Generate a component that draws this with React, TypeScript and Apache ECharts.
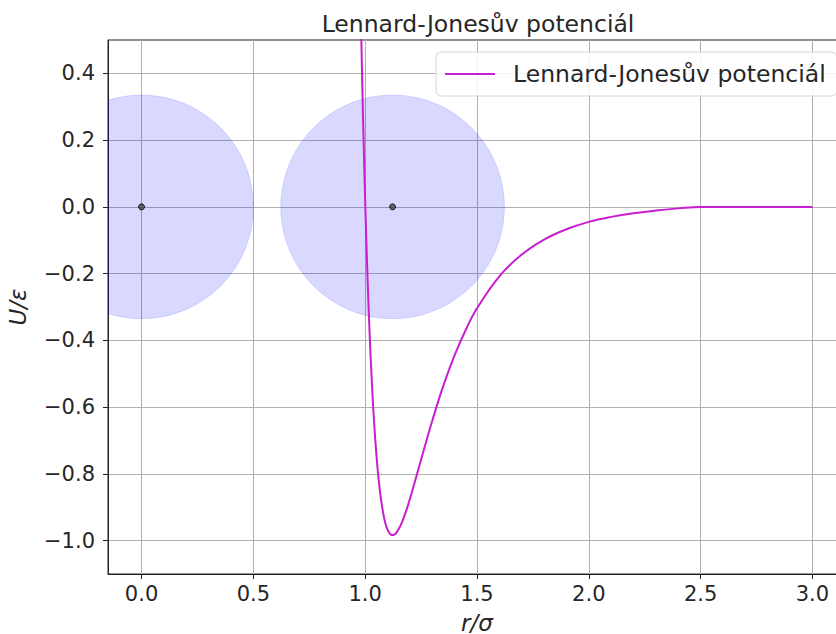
import React, { useEffect, useRef } from "react";
import * as echarts from "echarts";

// Sampled r/σ positions and reduced potential U/ε (truncated & shifted at r = 2.5σ)
const rValues = [
  0.96, 0.97, 0.975, 0.98, 0.985, 0.99, 1.0, 1.01, 1.02, 1.03, 1.04, 1.05, 1.06, 1.07,
  1.08, 1.09, 1.1, 1.11, 1.12, 1.13, 1.14, 1.16, 1.18, 1.2, 1.22, 1.25, 1.3, 1.35,
  1.4, 1.45, 1.5, 1.6, 1.7, 1.8, 1.9, 2.0, 2.1, 2.2, 2.3, 2.4, 2.5, 3.0,
];
const uValues = [
  1.434, 0.979, 0.78, 0.598, 0.432, 0.28, 0.016, -0.202, -0.382, -0.528, -0.647, -0.741,
  -0.816, -0.873, -0.916, -0.947, -0.967, -0.979, -0.9835, -0.982, -0.976, -0.952,
  -0.917, -0.875, -0.829, -0.757, -0.641, -0.535, -0.444, -0.368, -0.304, -0.208,
  -0.143, -0.098, -0.067, -0.045, -0.03, -0.019, -0.011, -0.0045, 0, 0,
];

// Two particles: centres (r/σ, U/ε) and their radius in σ units
const particleCenters = [
  [0, 0],
  [1.1225, 0],
];
const particleRadius = 0.5;

const xTicks = [0, 0.5, 1.0, 1.5, 2.0, 2.5, 3.0];
const yTicks = [-1.0, -0.8, -0.6, -0.4, -0.2, 0, 0.2, 0.4];

const seriesName = "Lennard-Jonesův potenciál";

const FONT = "DejaVu Sans";
const TEXT = "#262626";
const fmt = (v: number) => v.toFixed(1).replace("-", "\u2212");

export default function App() {
  const ref = useRef<HTMLDivElement>(null);

  useEffect(() => {
    if (!ref.current) return;
    const chart = echarts.init(ref.current, null, { renderer: "svg" });

    const axisCommon = {
      axisLine: { show: true, onZero: false, lineStyle: { color: "#222", width: 1 } },
      axisTick: { show: true, inside: false, length: 5, lineStyle: { color: "#222", width: 1 } },
      splitLine: { show: true, lineStyle: { color: "#b0b0b0", width: 1 } },
      nameTextStyle: { fontFamily: FONT, fontSize: 23, fontStyle: "italic", color: TEXT },
    };

    chart.setOption({
      animation: false,
      backgroundColor: "#ffffff",
      title: {
        text: seriesName,
        left: 473,
        top: 7,
        textAlign: "center",
        textStyle: { fontFamily: FONT, fontSize: 23.5, fontWeight: "normal", color: TEXT },
      },
      legend: {
        data: [{ name: seriesName, icon: "rect" }],
        left: 436,
        top: 52,
        itemWidth: 50,
        itemHeight: 2,
        itemGap: 10,
        padding: [10, 11, 10, 9],
        backgroundColor: "rgba(255,255,255,0.85)",
        borderColor: "#d4d4d4",
        borderWidth: 1,
        borderRadius: 5,
        textStyle: {
          fontFamily: FONT,
          fontSize: 23.5,
          lineHeight: 23,
          color: TEXT,
          padding: [0, 0, 0, 13],
        },
      },
      grid: {
        left: 108,
        right: -10,
        top: 40,
        bottom: 60,
        outerBoundsMode: "none",
        containLabel: false,
        show: true,
        borderColor: "#222",
        borderWidth: 1,
        backgroundColor: "transparent",
      },
      xAxis: {
        type: "value",
        min: -0.15,
        max: 3.15,
        name: "r/σ",
        nameLocation: "middle",
        nameGap: 37,
        ...axisCommon,
        axisTick: { ...axisCommon.axisTick, customValues: xTicks },
        axisLabel: {
          customValues: xTicks,
          formatter: fmt,
          fontFamily: FONT,
          fontSize: 21,
          color: TEXT,
          margin: 9,
        },
      },
      yAxis: {
        type: "value",
        min: -1.1,
        max: 0.5,
        name: "U/ε",
        nameLocation: "middle",
        nameGap: 79,
        ...axisCommon,
        axisTick: { ...axisCommon.axisTick, customValues: yTicks },
        axisLabel: {
          customValues: yTicks,
          formatter: fmt,
          fontFamily: FONT,
          fontSize: 21,
          color: TEXT,
          margin: 13,
        },
      },
      series: [
        {
          type: "custom",
          name: "particles",
          clip: true,
          z: 1,
          data: particleCenters,
          renderItem: (params: any, api: any) => {
            const c = api.coord([api.value(0), api.value(1)]);
            const r = api.size([particleRadius, 0])[0];
            return {
              type: "circle",
              shape: { cx: c[0], cy: c[1], r },
              style: {
                fill: "rgba(0,0,255,0.15)",
                stroke: "rgba(0,0,255,0.12)",
                lineWidth: 1,
              },
            };
          },
        },
        {
          type: "scatter",
          name: "centres",
          z: 3,
          symbol: "circle",
          symbolSize: 6,
          data: particleCenters,
          itemStyle: { color: "#444", borderColor: "#000", borderWidth: 1 },
        },
        {
          type: "line",
          name: seriesName,
          z: 4,
          clip: true,
          smooth: 0.4,
          showSymbol: false,
          symbol: "none",
          data: rValues.map((r, i) => [r, uValues[i]]),
          lineStyle: { color: "#c81ed2", width: 2 },
          itemStyle: { color: "#c81ed2" },
        },
      ],
    });

    return () => chart.dispose();
  }, []);

  return (
    <div
      ref={ref}
      style={{ position: "absolute", left: 0, top: 0, width: 836, height: 634, overflow: "hidden" }}
    />
  );
}
